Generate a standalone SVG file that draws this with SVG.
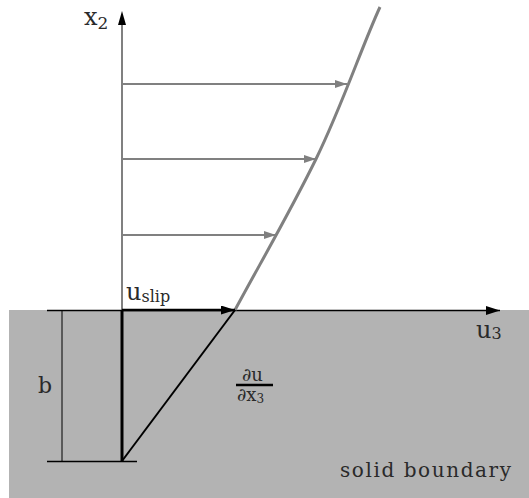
<svg xmlns="http://www.w3.org/2000/svg" width="529" height="498" viewBox="0 0 529 498">
<style>
.t{font-family:"DejaVu Serif","Liberation Serif",serif;fill:#2a2a2a}
.g{stroke:#808080;stroke-width:2;fill:none}
.k{stroke:#000;fill:none}
</style>
<defs>
<marker id="ag" markerWidth="12" markerHeight="8" refX="12" refY="4" orient="auto" markerUnits="userSpaceOnUse"><path d="M0,0 L12,4 L0,8 Z" fill="#808080"/></marker>
<marker id="ak" markerWidth="14" markerHeight="9" refX="14" refY="4.5" orient="auto" markerUnits="userSpaceOnUse"><path d="M0,0 L14,4.5 L0,9 Z" fill="#000"/></marker>
</defs>
<g id="solid"><rect x="9" y="310" width="520" height="188" fill="#b3b3b3"/></g>
<g id="connectors">
<line class="g" x1="122" y1="310" x2="122" y2="22"/>
<path d="M118,25 L122,11 L126,25 Z" fill="#000"/>
<line class="k" x1="47" y1="310.5" x2="500" y2="310.5" stroke-width="1.5" marker-end="url(#ak)"/>
<line class="g" x1="122" y1="84" x2="347" y2="84" marker-end="url(#ag)"/>
<line class="g" x1="122" y1="159" x2="316" y2="159" marker-end="url(#ag)"/>
<line class="g" x1="122" y1="235" x2="276" y2="235" marker-end="url(#ag)"/>
<path class="g" d="M235,310 C262,260 290,212 316,159 S362,46 380,7" style="stroke-width:3"/>
<line class="k" x1="122" y1="310" x2="235" y2="310" stroke-width="2.5" marker-end="url(#ak)"/>
<line class="k" x1="122" y1="310" x2="122" y2="461" stroke-width="3"/>
<line class="k" x1="122" y1="461" x2="235" y2="310" stroke-width="2"/>
<line class="k" x1="62" y1="310" x2="62" y2="461" stroke-width="1"/>
<line class="k" x1="47" y1="461.5" x2="137" y2="461.5" stroke-width="1.5"/>
<line class="k" x1="236" y1="385" x2="273" y2="385" stroke-width="2.5"/>
</g>
<g id="labels">
<text class="t" x="84" y="25" font-size="24">x<tspan font-size="17" dy="4">2</tspan></text>
<text class="t" x="126" y="300" font-size="24">u<tspan font-size="16" dy="2">slip</tspan></text>
<text class="t" x="476" y="338" font-size="24">u<tspan font-size="16" dy="1">3</tspan></text>
<text class="t" x="38" y="393" font-size="22">b</text>
<text class="t" x="242" y="381" font-size="18">∂u</text>
<text class="t" x="237" y="401" font-size="18">∂x<tspan font-size="12" dy="2">3</tspan></text>
<text class="t" x="340" y="477" font-size="20" textLength="171" lengthAdjust="spacing">solid boundary</text>
</g>
</svg>
